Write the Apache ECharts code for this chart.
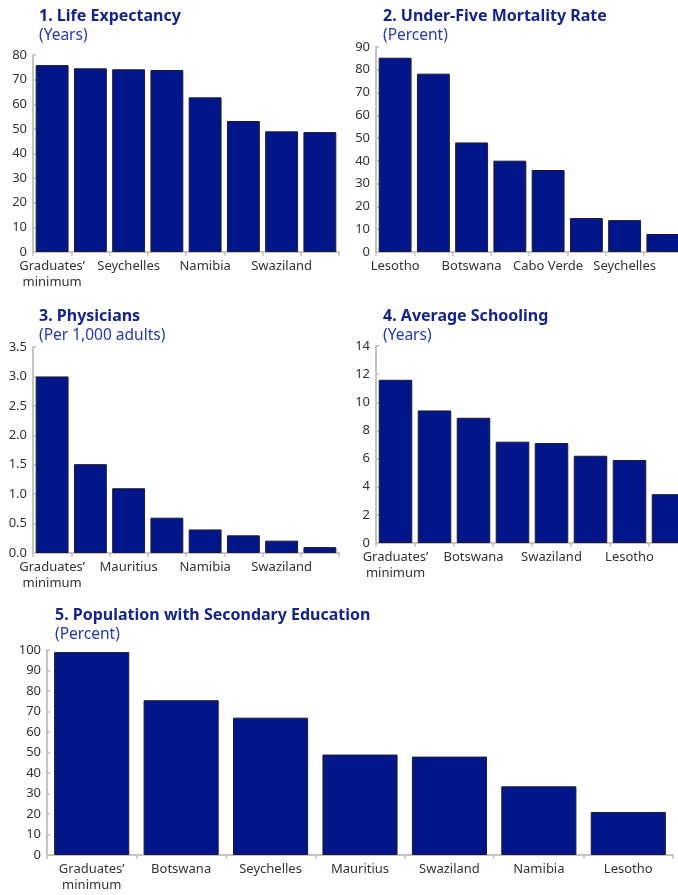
<!DOCTYPE html>
<html>
<head>
<meta charset="utf-8">
<script src="https://cdn.jsdelivr.net/npm/echarts@6/dist/echarts.min.js"></script>
<style>
  html, body { margin: 0; padding: 0; background: #fff; }
  #chart { width: 678px; height: 895px; }
</style>
</head>
<body>
<div id="chart"></div>
<script>
// Panel 1: life expectancy (years)
const lifeCategories = ["Graduates’ minimum", "Mauritius", "Seychelles", "Cabo Verde", "Namibia", "Botswana", "Swaziland", "Lesotho"];
const lifeValues = [75.9, 74.6, 74.2, 73.9, 62.8, 53.2, 49.0, 48.7];

// Panel 2: under-five mortality rate (percent)
const mortalityCategories = ["Lesotho", "Swaziland", "Botswana", "Namibia", "Cabo Verde", "Mauritius", "Seychelles", "Graduates’ minimum"];
const mortalityValues = [85.3, 78.3, 48.1, 40.1, 36.0, 14.9, 14.0, 7.9];

// Panel 3: physicians per 1,000 adults
const physicianCategories = ["Graduates’ minimum", "Seychelles", "Mauritius", "Cabo Verde", "Namibia", "Botswana", "Swaziland", "Lesotho"];
const physicianValues = [3.0, 1.51, 1.1, 0.6, 0.4, 0.3, 0.21, 0.1];

// Panel 4: average schooling (years)
const schoolingCategories = ["Graduates’ minimum", "Seychelles", "Botswana", "Mauritius", "Swaziland", "Namibia", "Lesotho", "Cabo Verde"];
const schoolingValues = [11.6, 9.42, 8.9, 7.2, 7.1, 6.2, 5.9, 3.47];

// Panel 5: population with secondary education (percent)
const secondaryCategories = ["Graduates’ minimum", "Botswana", "Seychelles", "Mauritius", "Swaziland", "Namibia", "Lesotho"];
const secondaryValues = [99, 75.5, 67, 49, 48, 33.5, 21];

const panelTitles = ["1. Life Expectancy", "2. Under-Five Mortality Rate", "3. Physicians", "4. Average Schooling", "5. Population with Secondary Education"];
const panelUnits = ["(Years)", "(Percent)", "(Per 1,000 adults)", "(Years)", "(Percent)"];

const FONT = "'Noto Sans', 'Open Sans', sans-serif";
const BAR = '#021689';
const TITLE_COLOR = '#14248a';
const UNIT_COLOR = '#2439b0';
const AXIS_GRAY = '#c4c4c4';
const LABEL_COLOR = '#333';

const grids = [
  { left: 33, top: 55, width: 306, height: 197 },
  { left: 376, top: 47, width: 306, height: 205 },
  { left: 33, top: 347, width: 306, height: 206 },
  { left: 376, top: 346, width: 312, height: 197 },
  { left: 47, top: 650, width: 626, height: 205 }
].map(g => Object.assign({ containLabel: false, outerBoundsMode: 'none' }, g));

const panels = [
  { cats: lifeCategories, vals: lifeValues, max: 80, interval: 10, decimals: 0, every: 1 },
  { cats: mortalityCategories, vals: mortalityValues, max: 90, interval: 10, decimals: 0, every: 1 },
  { cats: physicianCategories, vals: physicianValues, max: 3.5, interval: 0.5, decimals: 1, every: 1 },
  { cats: schoolingCategories, vals: schoolingValues, max: 14, interval: 2, decimals: 0, every: 1 },
  { cats: secondaryCategories, vals: secondaryValues, max: 100, interval: 10, decimals: 0, every: 0 }
];

const titlePos = [
  { left: 39, top: 8 }, { left: 383, top: 8 },
  { left: 39, top: 308 }, { left: 383, top: 308 },
  { left: 55, top: 607 }
];

const titles = [];
panelTitles.forEach((t, i) => {
  titles.push({
    text: t, left: titlePos[i].left, top: titlePos[i].top, padding: 0,
    textStyle: { fontFamily: FONT, fontSize: 16, fontWeight: 'bold', color: TITLE_COLOR }
  });
  titles.push({
    text: panelUnits[i], left: titlePos[i].left, top: titlePos[i].top + 20, padding: 0,
    textStyle: { fontFamily: FONT, fontSize: 15.5, fontWeight: 'normal', color: UNIT_COLOR }
  });
});

const xAxes = panels.map((p, i) => ({
  type: 'category', gridIndex: i, data: p.cats,
  axisLine: { lineStyle: { color: AXIS_GRAY, width: 2 } },
  axisTick: { show: true, interval: 0, length: 4, lineStyle: { color: AXIS_GRAY, width: 1.5 } },
  axisLabel: {
    interval: p.every, color: LABEL_COLOR, fontFamily: FONT, fontSize: 13, margin: 6,
    lineHeight: 16, hideOverlap: false,
    formatter: v => v.replace('’ ', '’\n')
  }
}));

const yAxes = panels.map((p, i) => ({
  type: 'value', gridIndex: i, min: 0, max: p.max, interval: p.interval,
  axisLine: { show: true, lineStyle: { color: AXIS_GRAY, width: 2 } },
  axisTick: { show: true, inside: true, length: 3, lineStyle: { color: AXIS_GRAY, width: 1.5 } },
  splitLine: { show: false },
  axisLabel: {
    color: LABEL_COLOR, fontFamily: FONT, fontSize: 13, margin: 6,
    formatter: v => v.toFixed(p.decimals)
  }
}));

const series = panels.map((p, i) => ({
  type: 'bar', xAxisIndex: i, yAxisIndex: i, data: p.vals,
  barCategoryGap: i === 4 ? '16%' : '14%',
  itemStyle: { color: BAR, borderColor: '#1c1c30', borderWidth: 1 },
  silent: true
}));

const chart = echarts.init(document.getElementById('chart'), null, { renderer: 'canvas' });
chart.setOption({
  animation: false,
  backgroundColor: '#fff',
  title: titles,
  grid: grids,
  xAxis: xAxes,
  yAxis: yAxes,
  series: series
});
</script>
</body>
</html>
